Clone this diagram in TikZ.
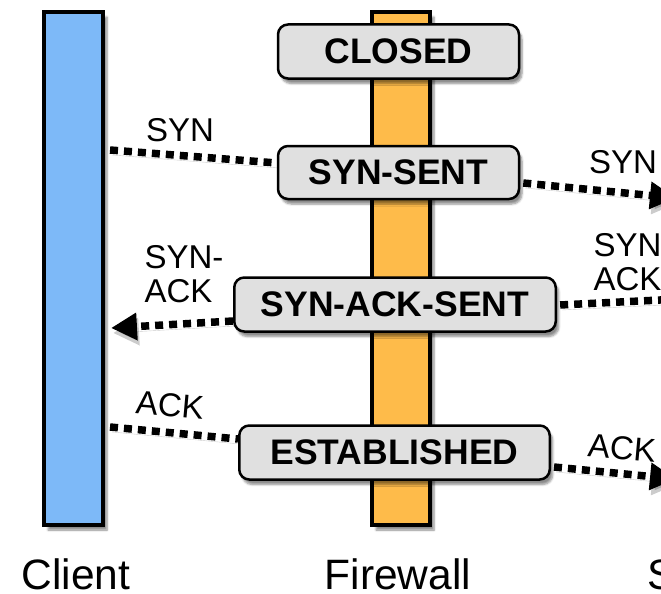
\documentclass[tikz,border=0pt]{standalone}
\usepackage{fontspec}
\setmainfont{Liberation Sans}
\usetikzlibrary{arrows.meta,shadows.blur,calc}
\definecolor{cblue}{HTML}{7DB9F8}
\definecolor{forange}{HTML}{FEBB4A}
\definecolor{boxgray}{HTML}{E0E0E0}
\begin{document}
\begin{tikzpicture}[x=1pt,y=-1pt,
  lifebar/.style={draw=black, line width=4pt, minimum width=58pt, minimum height=513pt, inner sep=0pt,
    blur shadow={shadow xshift=4pt, shadow yshift=-5pt, shadow blur steps=6, shadow opacity=45}},
  statebox/.style={draw=black, line width=2.5pt, fill=boxgray, rounded corners=10pt, minimum height=54pt,
    inner sep=0pt, font=\fontsize{35.5}{37}\selectfont\bfseries,
    blur shadow={shadow xshift=3pt, shadow yshift=-5pt, shadow blur steps=6, shadow opacity=45}},
  msgline/.style={line width=7.5pt, dash pattern=on 8pt off 6pt,
    preaction={draw=black, opacity=0.2, transform canvas={shift={(2pt,-5pt)}}}},
  msgtip/.style={-{Triangle[length=26pt,width=26pt]}},
  msglabel/.style={font=\fontsize{33}{34}\selectfont, align=left, inner sep=0pt},
  captxt/.style={font=\fontsize{42.5}{44}\selectfont, inner sep=0pt, anchor=base}]
\useasboundingbox (0,0) rectangle (661,594);
\clip (0,0) rectangle (661,594);

% lifelines
\node[lifebar, fill=cblue, minimum width=59pt] (client) at (73.5,268.5) {};
\node[lifebar, fill=forange] (fw) at (401,268.5) {};

% states
\node[statebox, minimum width=241pt] (closed) at (398.5,51.5) {CLOSED};
\node[statebox, minimum width=241pt, minimum height=53pt] (synsent) at (398.5,172.5) {SYN-SENT};
\node[statebox, minimum width=321.5pt] (synack) at (395,304.5) {SYN-ACK-SENT};
\node[statebox, minimum width=310.5pt] (estab) at (394.5,452.5) {ESTABLISHED};

% captions
\node[captxt] (lclient) at (76,589) {Client};
\node[captxt] (lfw) at (398,589) {Firewall};
\node[captxt, anchor=base west] (lserver) at (647,589) {Server};

% connector end points
\coordinate (c1) at (client.east |- 0,150);
\coordinate (c2) at (client.east |- 0,328);
\coordinate (c3) at (client.east |- 0,427);
\coordinate (srv1) at (676,198);
\coordinate (srv2) at (680,299);
\coordinate (srv3) at (676,479);

% messages
\draw[msgline] ([xshift=5pt]c1) -- (synsent.west |- 0,163);
\draw[msgline, msgtip] ([xshift=3pt]synsent.east |- 0,183) -- (srv1);
\draw[msgline] (srv2) -- ([xshift=3pt]synack.east |- 0,305);
\draw[msgline, msgtip] (synack.west |- 0,321) -- ([xshift=6pt]c2);
\draw[msgline] ([xshift=5pt]c3) -- (estab.west |- 0,439);
\draw[msgline, msgtip] ([xshift=3pt]estab.east |- 0,467) -- (srv3);

% labels
\node[msglabel] (lsyn1) at (180,130) {SYN};
\node[msglabel] (lsynack1) at (184,274) {SYN-\\ACK};
\node[msglabel, rotate=-5] (lack1) at (170,405) {ACK};
\node[msglabel] (lsyn2) at (623,162) {SYN};
\node[msglabel] (lsynack2) at (633,262) {SYN-\\ACK};
\node[msglabel, rotate=-5] (lack2) at (622,448) {ACK};
\end{tikzpicture}
\end{document}
